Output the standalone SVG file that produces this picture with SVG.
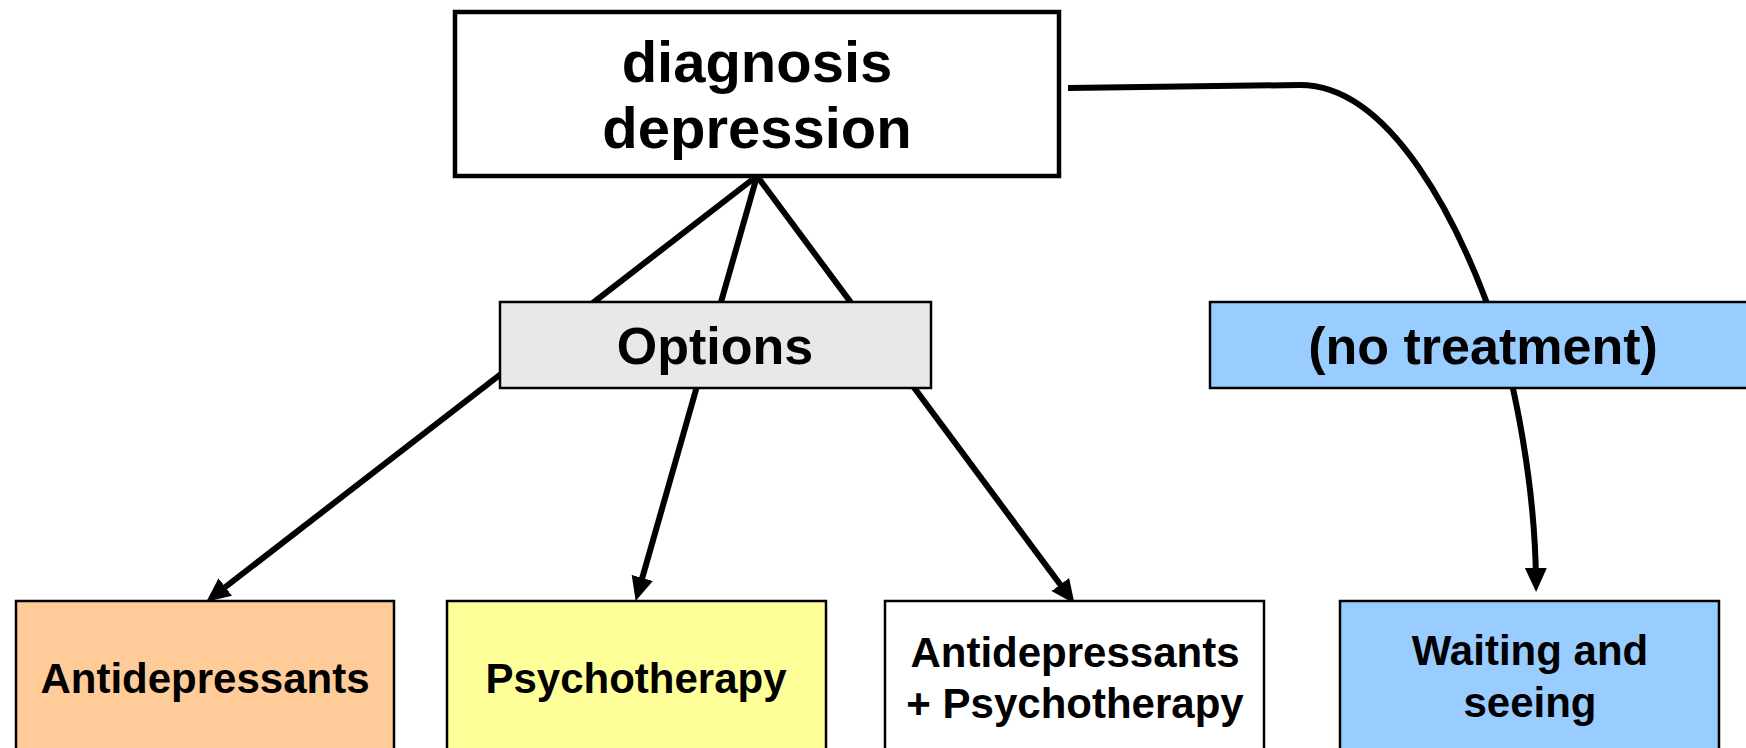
<svg xmlns="http://www.w3.org/2000/svg" width="1746" height="748" viewBox="0 0 1746 748">
<style>
text{font-family:"Liberation Sans",Arial,sans-serif;font-weight:bold;fill:#000;text-anchor:middle}
.conn{fill:none;stroke:#000;stroke-width:6}
.box{stroke:#000;stroke-width:2.5}
.t42{font-size:42px}
.t52{font-size:52px}
</style>
<defs>
<marker id="arr" markerUnits="userSpaceOnUse" markerWidth="26" markerHeight="24" viewBox="0 0 26 24" refX="13" refY="12" orient="auto">
<path d="M0,1 L24,12 L0,23 z" fill="#000"/>
</marker>
</defs>
<rect width="1746" height="748" fill="#fff"/>
<g id="connectors">
<path class="conn" d="M757,176 L215,595" marker-end="url(#arr)"/>
<path class="conn" d="M757,176 L638.7,590.4" marker-end="url(#arr)"/>
<path class="conn" d="M757,176 L1068,595" marker-end="url(#arr)"/>
<path class="conn" d="M1068,88 L1300,85 C1390,85 1460,220 1500,340 C1513,380 1535,480 1536,581" marker-end="url(#arr)"/>
</g>
<g id="diagnosis">
<rect x="455" y="12" width="604" height="164" fill="#fff" stroke="#000" stroke-width="4.5"/>
<text x="757" y="82" style="font-size:58px">diagnosis</text>
<text x="757" y="148" style="font-size:58px">depression</text>
</g>
<g id="options">
<rect class="box" x="500" y="302" width="431" height="86" fill="#e8e8e8"/>
<text class="t52" x="715" y="364">Options</text>
</g>
<g id="no-treatment">
<rect class="box" x="1210" y="302" width="545" height="86" fill="#99ccff"/>
<text class="t52" x="1483" y="364">(no treatment)</text>
</g>
<g id="antidepressants">
<rect class="box" x="16" y="601" width="378" height="200" fill="#ffcc99"/>
<text class="t42" x="205" y="693">Antidepressants</text>
</g>
<g id="psychotherapy">
<rect class="box" x="447" y="601" width="379" height="200" fill="#ffff99"/>
<text class="t42" x="636" y="693">Psychotherapy</text>
</g>
<g id="combined">
<rect class="box" x="885" y="601" width="379" height="200" fill="#fff"/>
<text class="t42" x="1075" y="667">Antidepressants</text>
<text class="t42" x="1075" y="718">+ Psychotherapy</text>
</g>
<g id="waiting">
<rect class="box" x="1340" y="601" width="379" height="200" fill="#99ccff"/>
<text class="t42" x="1530" y="665">Waiting and</text>
<text class="t42" x="1530" y="717">seeing</text>
</g>
</svg>
